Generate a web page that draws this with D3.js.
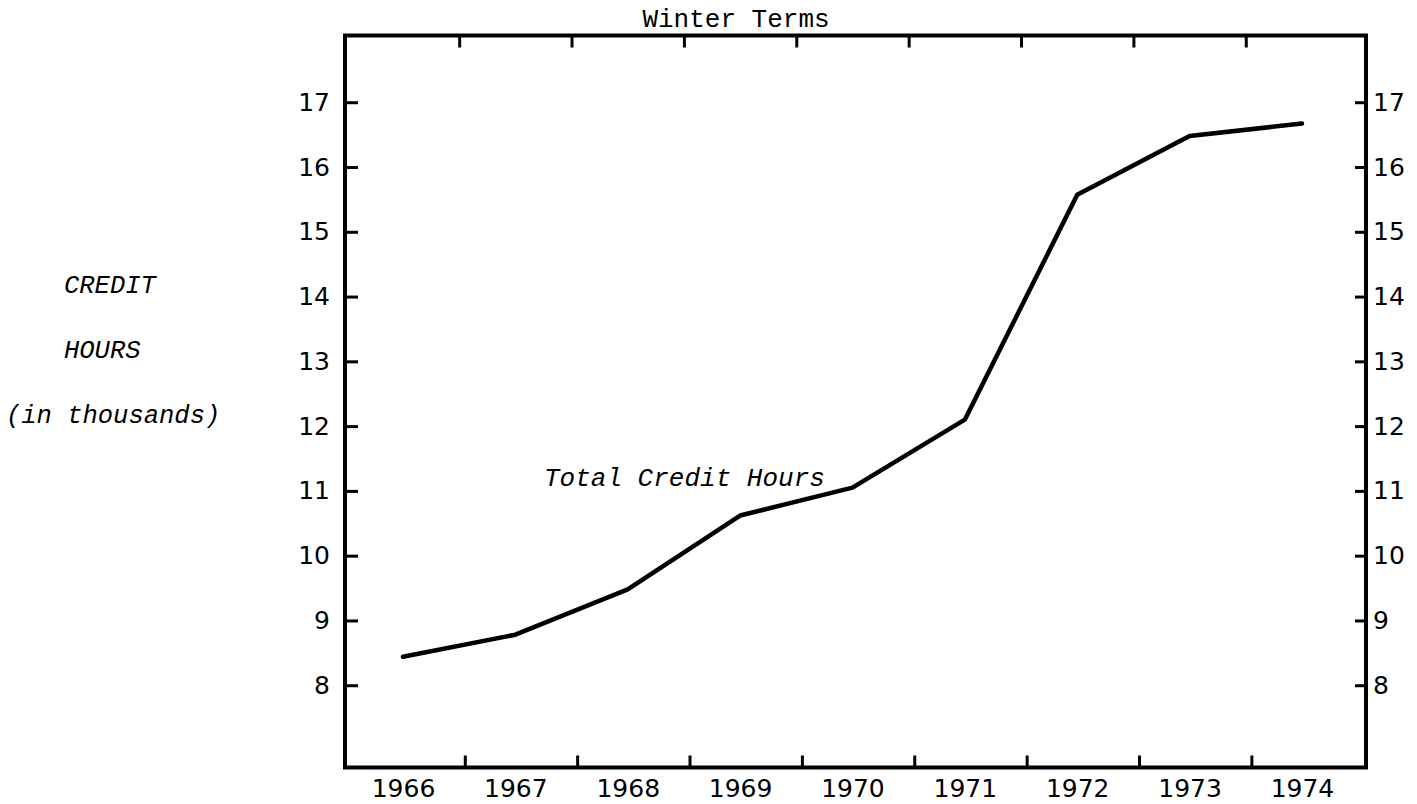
<!DOCTYPE html>
<html>
<head>
<meta charset="utf-8">
<script src="https://cdn.jsdelivr.net/npm/d3@7"></script>
<style>
  html, body { margin: 0; padding: 0; background: #fff; }
  svg { display: block; }
</style>
</head>
<body>
<svg id="chart" width="1417" height="804"></svg>
<script>
const years = [1966, 1967, 1968, 1969, 1970, 1971, 1972, 1973, 1974]
const creditHours = [8.44, 8.78, 9.48, 10.62, 11.05, 12.10, 15.57, 16.48, 16.67]
const yTicks = [8, 9, 10, 11, 12, 13, 14, 15, 16, 17]
const topTicks = [1966.5, 1967.5, 1968.5, 1969.5, 1970.5, 1971.5, 1972.5, 1973.5]
const bottomTicks = [1966.55, 1967.55, 1968.55, 1969.55, 1970.55, 1971.55, 1972.55, 1973.55]
const yLabelLines = ['CREDIT', 'HOURS', '(in thousands)']

const frame = { left: 345, right: 1366, top: 35.5, bottom: 767.5 }
const mono = "'Liberation Mono', 'DejaVu Sans Mono', monospace"
const sans = "'DejaVu Sans', sans-serif"

const svg = d3.select('#chart')

const x = d3.scaleLinear()
  .domain([1965.484, 1974.57])
  .range([frame.left, frame.right])

const y = d3.scaleLinear()
  .domain([6.73, 18.03])
  .range([frame.bottom, frame.top])

function styleAxis(sel, size) {
  sel.select('.domain').remove()
  sel.attr('font-family', sans).attr('font-size', size)
  sel.selectAll('.tick line').attr('stroke', '#000').attr('stroke-width', 3)
  sel.selectAll('.tick text').attr('fill', '#000')
}

// left axis
svg.append('g')
  .attr('transform', `translate(${frame.left},0)`)
  .call(d3.axisLeft(y).tickValues(yTicks).tickSize(-13).tickPadding(15).tickFormat(d3.format('d')))
  .call(styleAxis, 25)

// right axis
svg.append('g')
  .attr('transform', `translate(${frame.right},0)`)
  .call(d3.axisRight(y).tickValues(yTicks).tickSize(-11).tickPadding(7).tickFormat(d3.format('d')))
  .call(styleAxis, 25)

// top ticks
svg.append('g')
  .attr('transform', `translate(0,${frame.top})`)
  .call(d3.axisTop(x).tickValues(topTicks).tickSize(-12).tickFormat(''))
  .call(styleAxis, 25)

// bottom ticks
svg.append('g')
  .attr('transform', `translate(0,${frame.bottom})`)
  .call(d3.axisBottom(x).tickValues(bottomTicks).tickSize(-12).tickFormat(''))
  .call(styleAxis, 25)

// year labels
svg.append('g')
  .attr('transform', `translate(0,${frame.bottom})`)
  .call(d3.axisBottom(x).tickValues(years).tickSize(0).tickPadding(12).tickFormat(d3.format('d')))
  .call(styleAxis, 25)

// frame
svg.append('rect')
  .attr('x', frame.left)
  .attr('y', frame.top)
  .attr('width', frame.right - frame.left)
  .attr('height', frame.bottom - frame.top)
  .attr('fill', 'none')
  .attr('stroke', '#000')
  .attr('stroke-width', 4)

// data line
const line = d3.line()
  .x((d, i) => x(years[i]))
  .y(d => y(d))

svg.append('path')
  .datum(creditHours)
  .attr('d', line)
  .attr('fill', 'none')
  .attr('stroke', '#000')
  .attr('stroke-width', 4.5)
  .attr('stroke-linejoin', 'round')
  .attr('stroke-linecap', 'round')

// title
svg.append('text')
  .attr('x', 736)
  .attr('y', 27)
  .attr('text-anchor', 'middle')
  .attr('font-family', mono)
  .attr('font-size', 26)
  .attr('fill', '#000')
  .text('Winter Terms')

// y axis title, typed as three lines
svg.append('g')
  .selectAll('text')
  .data(yLabelLines)
  .enter().append('text')
  .attr('x', (d, i) => i === 2 ? 6 : 64)
  .attr('y', (d, i) => 293 + i * 65)
  .attr('font-family', mono)
  .attr('font-style', 'italic')
  .attr('font-size', 25.5)
  .attr('fill', '#000')
  .text(d => d)

// series label
svg.append('text')
  .attr('x', 544)
  .attr('y', 486)
  .attr('font-family', mono)
  .attr('font-style', 'italic')
  .attr('font-size', 26)
  .attr('fill', '#000')
  .text('Total Credit Hours')
</script>
</body>
</html>
